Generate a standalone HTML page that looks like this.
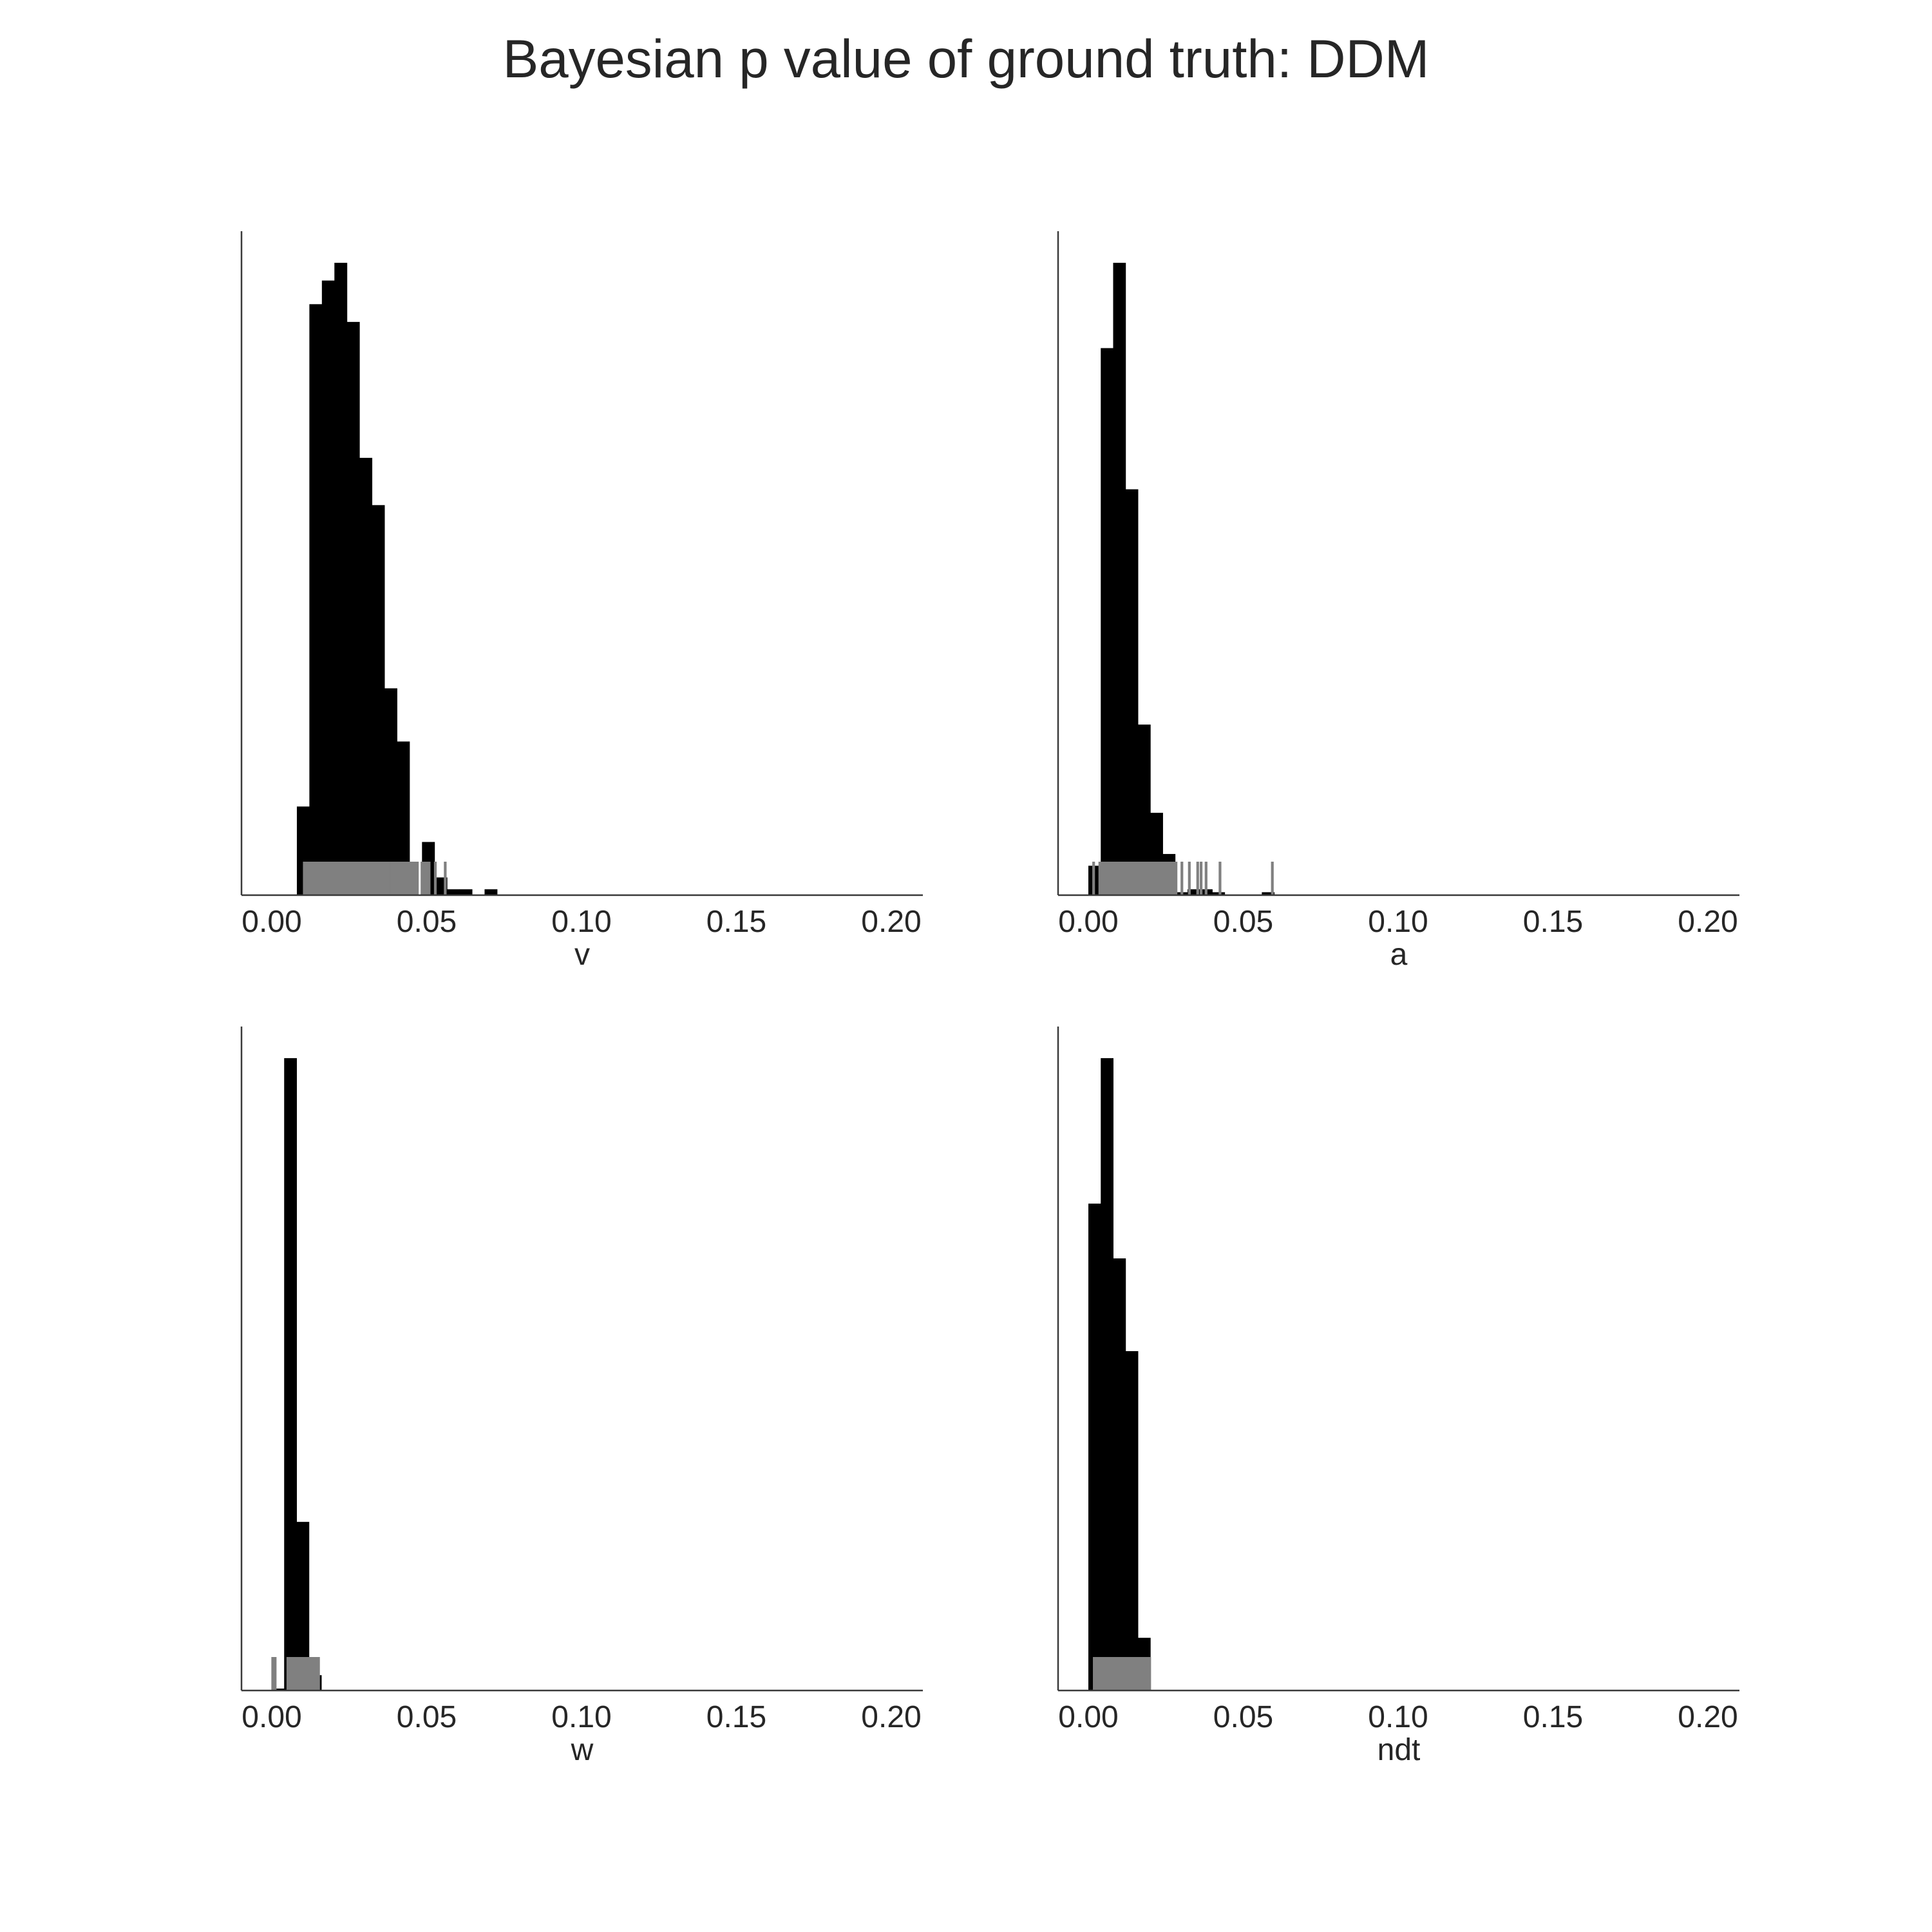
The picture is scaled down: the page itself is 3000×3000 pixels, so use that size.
<!DOCTYPE html>
<html><head><meta charset="utf-8"><style>
html,body{margin:0;padding:0;background:#fff;}
svg{display:block;}
text{font-family:"Liberation Sans",Arial,sans-serif;fill:#262626;}
</style></head>
<body>
<svg id="fig" width="3000" height="3000" viewBox="0 0 3000 3000" xmlns="http://www.w3.org/2000/svg">
<rect width="3000" height="3000" fill="#fff"/>
<text x="1500" y="120" font-size="83.5" text-anchor="middle">Bayesian p value of ground truth: DDM</text>
</svg>
<script>
// ---- data ----
const panelNames = ["v", "a", "w", "ndt"];
const xTicks = [0.00, 0.05, 0.10, 0.15, 0.20];
const xTickLabels = ["0.00", "0.05", "0.10", "0.15", "0.20"];
const binStarts = [0.0081, 0.0, 0.0, 0.0];
const binWidths = [0.00404, 0.004, 0.004, 0.004];
const countsV = [15, 100, 104, 107, 97, 74, 66, 35, 26, 0, 9, 3, 1, 1, 0, 1];
const countsA = [10, 186, 215, 138, 58, 28, 14, 1, 2, 2, 1, 0, 0, 0, 1];
const countsW = [1, 330, 88, 8];
const countsNdt = [231, 300, 205, 161, 25];
const rugV = [0.0105,0.0112,0.0119,0.0126,0.0133,0.0140,0.0147,0.0154,0.0161,0.0168,0.0175,0.0182,0.0189,0.0196,0.0203,0.0210,0.0217,0.0224,0.0231,0.0238,0.0245,0.0252,0.0259,0.0266,0.0273,0.0280,0.0287,0.0294,0.0301,0.0308,0.0315,0.0322,0.0329,0.0336,0.0343,0.0350,0.0357,0.0364,0.0371,0.0378,0.0386,0.0393,0.0400,0.0407,0.0414,0.0421,0.0428,0.0435,0.0442,0.0449,0.0456,0.0463,0.0470,0.0485,0.0493,0.0500,0.0508,0.0528,0.0560];
const rugA = [0.0017,0.0037,0.0044,0.0051,0.0058,0.0065,0.0072,0.0079,0.0086,0.0093,0.0100,0.0107,0.0114,0.0121,0.0128,0.0135,0.0142,0.0149,0.0156,0.0163,0.0170,0.0177,0.0184,0.0191,0.0198,0.0205,0.0212,0.0219,0.0226,0.0233,0.0240,0.0247,0.0254,0.0261,0.0268,0.0275,0.0283,0.0302,0.0326,0.0353,0.0364,0.0380,0.0425,0.0594];
const rugW = [0.0003,0.0011,0.0052,0.0059,0.0066,0.0073,0.0080,0.0087,0.0094,0.0101,0.0108,0.0115,0.0122,0.0130,0.0138,0.0145,0.0151];
const rugNdt = [0.0019,0.0026,0.0033,0.0040,0.0047,0.0054,0.0061,0.0068,0.0075,0.0082,0.0089,0.0096,0.0103,0.0110,0.0117,0.0124,0.0131,0.0138,0.0145,0.0152,0.0159,0.0166,0.0172,0.0179,0.0186,0.0193,0.0198];
const allCounts = [countsV, countsA, countsW, countsNdt];
const allRugs = [rugV, rugA, rugW, rugNdt];

// ---- layout ----
const NS = "http://www.w3.org/2000/svg";
const svg = document.getElementById("fig");
const lefts = [375, 1643, 375, 1643];
const tops = [359, 359, 1594, 1594];
const W = 1058, H = 1031, ZERO_OFF = 47, PX_PER_UNIT = 4810;
function mk(tag, attrs) {
  const e = document.createElementNS(NS, tag);
  for (const k in attrs) e.setAttribute(k, attrs[k]);
  return e;
}
for (let p = 0; p < 4; p++) {
  const L = lefts[p], T = tops[p], B = T + H;
  const xs = v => L + ZERO_OFF + v * PX_PER_UNIT;
  const counts = allCounts[p];
  const maxC = Math.max(...counts) * 1.05;
  const ys = c => B - c / maxC * H;
  const g = mk("g", {});
  
  
  svg.appendChild(g);
  counts.forEach((c, i) => {
    if (c <= 0) return;
    const x0 = xs(binStarts[p] + i * binWidths[p]);
    const x1 = xs(binStarts[p] + (i + 1) * binWidths[p]);
    const r = mk("rect", {x: x0, y: ys(c), width: x1 - x0 + 0.5, height: B - ys(c), fill: "#000"});
    
    
    g.appendChild(r);
  });
  allRugs[p].forEach((v, i) => {
    const l = mk("line", {x1: xs(v), x2: xs(v), y1: B - 52, y2: B, stroke: "#808080", "stroke-width": 4.2});
    
    
    g.appendChild(l);
  });
  const ya = mk("line", {x1: L, x2: L, y1: T, y2: B, stroke: "#3a3a3a", "stroke-width": 2.5});
  
  
  g.appendChild(ya);
  const xa = mk("line", {x1: L, x2: L + W, y1: B, y2: B, stroke: "#3a3a3a", "stroke-width": 2.5});
  
  
  g.appendChild(xa);
  xTicks.forEach((t, i) => {
    const tx = mk("text", {x: xs(t), y: B + 57, "font-size": 48, "text-anchor": "middle"});
    tx.textContent = xTickLabels[i];
    
    
    g.appendChild(tx);
  });
  const lab = mk("text", {x: L + W / 2, y: B + 108, "font-size": 48, "text-anchor": "middle"});
  lab.textContent = panelNames[p];
  
  
  g.appendChild(lab);
}
</script>
</body></html>
